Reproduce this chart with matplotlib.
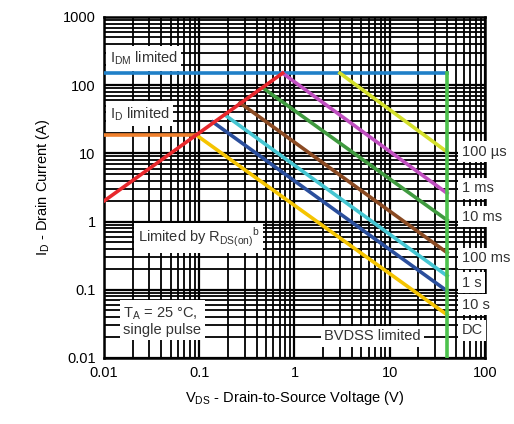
import matplotlib
matplotlib.use("Agg")
import matplotlib.pyplot as plt
import numpy as np

plt.rcParams['font.family'] = ['Liberation Sans', 'DejaVu Sans']

# ---- data ----
idm_limit = 150.0          # A
id_limit = 18.6            # A
bvdss = 40.0               # V
rds_v = [0.01, 0.75]       # R_DS(on) limit line (V)
rds_i = [2.0, 150.0]       # (A)
id_v = [0.01, 0.093]
idm_v = [0.01, 40.0]

pulse_labels = ["100 µs", "1 ms", "10 ms", "100 ms", "1 s", "10 s", "DC"]
pulse_start_v = [3.0, 0.75, 0.467, 0.268, 0.186, 0.139, 0.093]
pulse_start_i = [150.0, 150.0, 91.0, 55.0, 36.6, 28.8, 18.6]
pulse_end_v = [40.0, 40.0, 40.0, 40.0, 40.0, 40.0, 40.0]
pulse_end_i = [10.5, 2.6, 1.05, 0.35, 0.16, 0.096, 0.043]
pulse_colors = ["#d4e02a", "#c04ec0", "#3f9a3f", "#8a4a22", "#45c6d2", "#2a4e9c", "#f5c400"]

xticks = [0.01, 0.1, 1, 10, 100]
xticklabels = ["0.01", "0.1", "1", "10", "100"]
yticks = [0.01, 0.1, 1, 10, 100, 1000]
yticklabels = ["0.01", "0.1", "1", "10", "100", "1000"]

fig = plt.figure(figsize=(5.14, 4.24), dpi=100)
ax = fig.add_axes([0.2023, 0.1557, 0.7413, 0.8043])
ax.set_xscale('log')
ax.set_yscale('log')
ax.set_xlim(0.01, 100)
ax.set_ylim(0.01, 1000)

ax.grid(True, which='major', color='black', lw=1.6)
ax.grid(True, which='minor', color='black', lw=1.3)
ax.set_axisbelow(True)
for s in ax.spines.values():
    s.set_linewidth(1.8)
ax.tick_params(which='both', length=0, labelsize=10.5, pad=6)
ax.set_xticks(xticks)
ax.set_xticklabels(xticklabels)
ax.set_yticks(yticks)
ax.set_yticklabels(yticklabels)

lw = 2.6
ax.plot(idm_v, [idm_limit, idm_limit], color="#1f80c8", lw=lw, zorder=3)
ax.plot(id_v, [id_limit, id_limit], color="#f0802c", lw=lw, zorder=3)
ax.plot([bvdss, bvdss], [0.01, idm_limit], color="#4cc24c", lw=lw, zorder=4)
for sv, si, ev, ei, c in zip(pulse_start_v, pulse_start_i, pulse_end_v, pulse_end_i, pulse_colors):
    ax.plot([sv, ev], [si, ei], color=c, lw=lw, zorder=3)
ax.plot(rds_v, rds_i, color="#e8282c", lw=lw, zorder=5)

box = dict(facecolor='white', edgecolor='none', pad=2.5)
tc = '#333333'
fs = 10.5
ax.text(0.0115, 245, r"I$_{\mathregular{DM}}$ limited", fontsize=fs, color=tc, bbox=box, va='center', zorder=6)
ax.text(0.0115, 38, r"I$_{\mathregular{D}}$ limited", fontsize=fs, color=tc, bbox=box, va='center', zorder=6)
ax.text(0.0225, 0.58, r"Limited by R$_{\mathregular{DS(on)}}$$^{\mathregular{b}}$", fontsize=fs, color=tc, bbox=box, va='center', zorder=6)
ax.text(0.016, 0.035, "T$_{\\mathregular{A}}$ = 25 °C,\nsingle pulse", fontsize=fs, color=tc, bbox=box, va='center', linespacing=1.1, zorder=6)
ax.text(2.05, 0.021, "BVDSS limited", fontsize=fs, color=tc, bbox=box, va='center', zorder=6)

label_y = [10.5, 3.1, 1.17, 0.29, 0.126, 0.06, 0.0257]
for lab, yv in zip(pulse_labels, label_y):
    ax.text(57, yv, lab, fontsize=fs, color=tc, bbox=box, va='center', ha='left', zorder=6, clip_on=False)

ax.set_xlabel(r"V$_{\mathregular{DS}}$ - Drain-to-Source Voltage (V)", fontsize=fs, labelpad=6)
ax.set_ylabel(r"I$_{\mathregular{D}}$ - Drain Current (A)", fontsize=fs, labelpad=8)

fig.savefig("out.png", dpi=100)
